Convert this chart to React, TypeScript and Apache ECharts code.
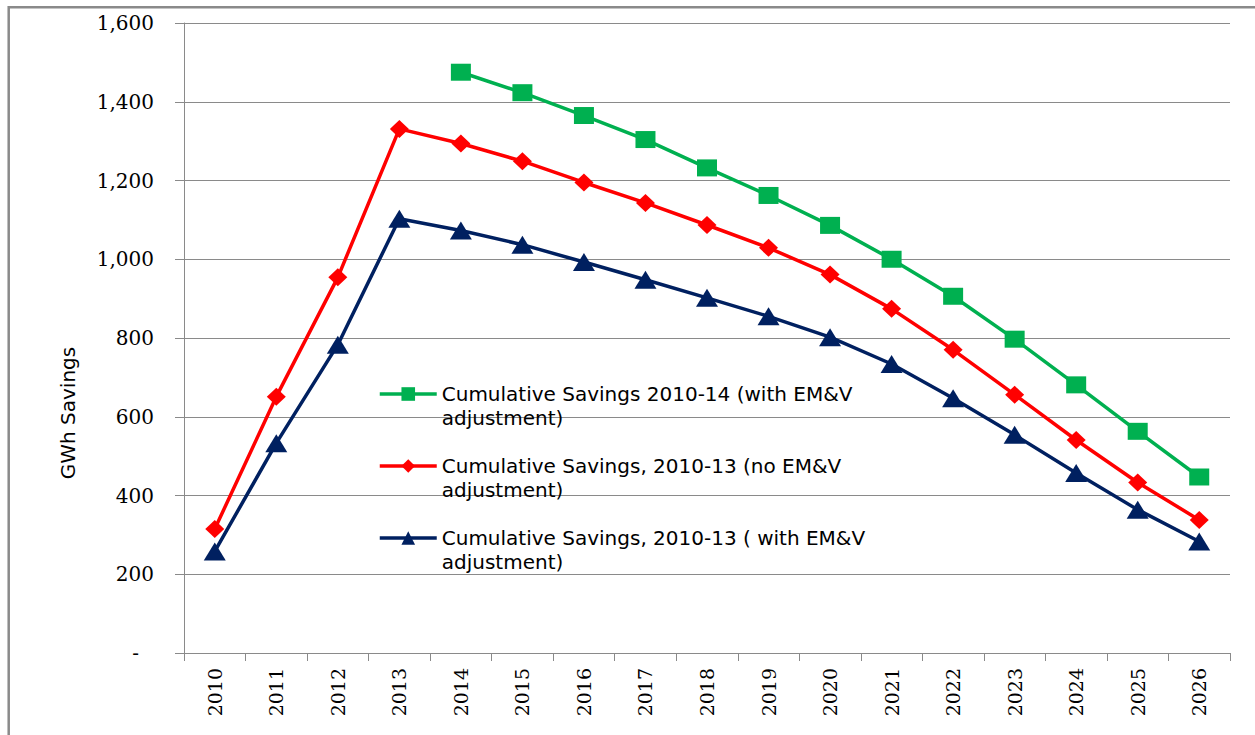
import React, { useEffect, useRef } from "react";
import * as echarts from "echarts";

const years = ["2010", "2011", "2012", "2013", "2014", "2015", "2016", "2017", "2018", "2019", "2020", "2021", "2022", "2023", "2024", "2025", "2026"];

const greenName = "Cumulative Savings 2010-14 (with EM&V adjustment)";
const redName = "Cumulative Savings, 2010-13 (no EM&V adjustment)";
const blueName = "Cumulative Savings, 2010-13 ( with EM&V adjustment)";

const greenValues = [null, null, null, null, 1475, 1423, 1365, 1304, 1232, 1162, 1086, 1000, 906, 797, 681, 563, 447];
const redValues = [315, 651, 954, 1331, 1294, 1249, 1195, 1143, 1087, 1029, 961, 874, 770, 656, 541, 433, 338];
const blueValues = [258, 533, 783, 1103, 1073, 1037, 993, 948, 902, 855, 802, 734, 647, 554, 457, 364, 283];

const yMin = 0;
const yMax = 1600;
const yStep = 200;
const yAxisTitle = "GWh Savings";

export default function App() {
  const ref = useRef<HTMLDivElement>(null);

  useEffect(() => {
    if (!ref.current) return;
    const chart = echarts.init(ref.current, null, { renderer: "svg" });
    const sansFont = "DejaVu Sans";
    const serifFont = "DejaVu Serif";
    const gray = "#8a8a8a";

    chart.setOption({
      animation: false,
      backgroundColor: "#ffffff",
      grid: { left: 184, right: 25, top: 23, bottom: 82, containLabel: false },
      legend: {
        orient: "vertical",
        left: 378,
        top: 358,
        padding: 0,
        itemGap: 0,
        itemWidth: 57,
        itemHeight: 17,
        data: [greenName, redName, blueName],
        lineStyle: { width: "inherit" },
        formatter: (name: string) => "\n" + name.replace(" adjustment)", "\nadjustment)"),
        textStyle: {
          fontFamily: sansFont,
          fontSize: 20,
          lineHeight: 24,
          color: "#000000",
        },
      },
      xAxis: {
        type: "category",
        data: years,
        boundaryGap: true,
        axisLine: { show: true, lineStyle: { color: gray, width: 1 } },
        axisTick: { show: true, interval: 0, length: 8, alignWithLabel: false, lineStyle: { color: gray } },
        axisLabel: {
          interval: 0,
          rotate: 90,
          margin: 15,
          fontFamily: serifFont,
          fontSize: 19,
          color: "#000000",
        },
        splitLine: { show: false },
      },
      yAxis: {
        type: "value",
        min: yMin,
        max: yMax,
        interval: yStep,
        axisLine: { show: true, lineStyle: { color: gray, width: 1 } },
        axisTick: { show: true, length: 9, lineStyle: { color: gray } },
        axisLabel: {
          margin: 30,
          fontFamily: serifFont,
          fontSize: 20,
          color: "#000000",
          formatter: (v: number) => (v === 0 ? "{d|-}" : v.toLocaleString("en-US")),
          rich: {
            d: { fontFamily: serifFont, fontSize: 20, color: "#000000", padding: [0, 15, 0, 0] },
          },
        },
        splitLine: { show: true, lineStyle: { color: gray, width: 1 } },
      },
      graphic: [
        {
          type: "rect",
          shape: { x: 8.7, y: 7.2, width: 1270, height: 750 },
          style: { fill: "none", stroke: "#8a8a8a", lineWidth: 2.5 },
          silent: true,
        },
        {
          type: "text",
          x: 68,
          y: 413,
          rotation: Math.PI / 2,
          style: {
            text: yAxisTitle,
            fontFamily: sansFont,
            fontSize: 20,
            fill: "#000000",
            align: "center",
            verticalAlign: "middle",
          },
          silent: true,
        },
      ],
      series: [
        {
          name: greenName,
          type: "line",
          data: greenValues,
          symbol: "rect",
          symbolSize: [20, 17],
          lineStyle: { color: "#00B050", width: 3.5 },
          itemStyle: { color: "#00B050" },
          connectNulls: false,
          z: 3,
        },
        {
          name: redName,
          type: "line",
          data: redValues,
          symbol: "diamond",
          symbolSize: [19, 18],
          lineStyle: { color: "#FF0000", width: 3.5 },
          itemStyle: { color: "#FF0000" },
          z: 2,
        },
        {
          name: blueName,
          type: "line",
          data: blueValues,
          symbol: "triangle",
          symbolSize: [22, 18],
          lineStyle: { color: "#002060", width: 3.5 },
          itemStyle: { color: "#002060" },
          z: 1,
        },
      ],
    });

    return () => chart.dispose();
  }, []);

  return (
    <div
      ref={ref}
      style={{ position: "absolute", left: 0, top: 0, width: 1255, height: 735 }}
    />
  );
}
